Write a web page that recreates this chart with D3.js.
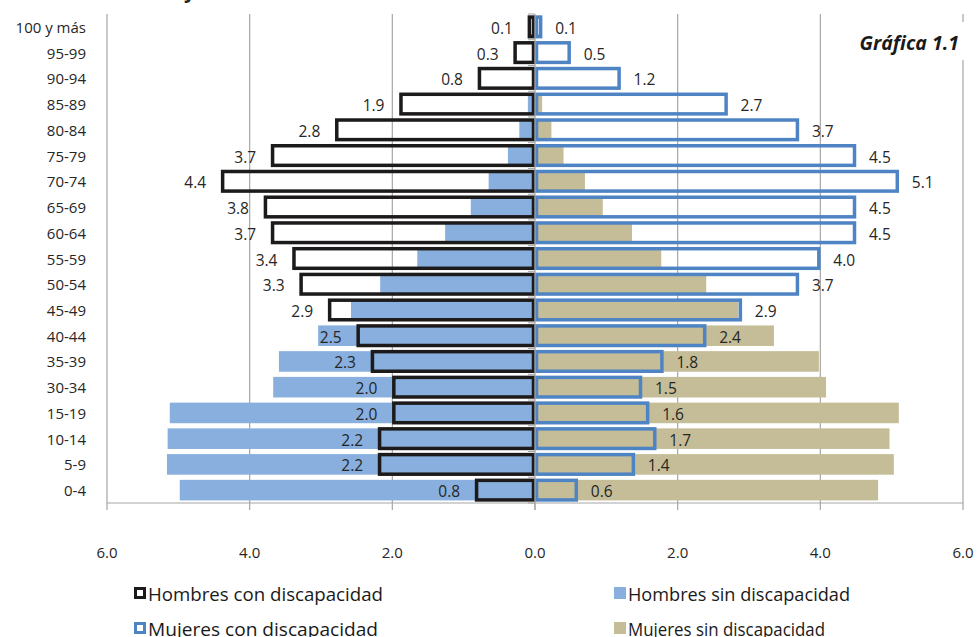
<!DOCTYPE html>
<html>
<head>
<meta charset="utf-8">
<style>
  body { margin: 0; background: #fff; }
  svg { display: block; font-family: "Open Sans", "Noto Sans", sans-serif; }
</style>
</head>
<body>
<svg width="978" height="637"></svg>
<script src="https://cdn.jsdelivr.net/npm/d3@7/dist/d3.min.js"></script>
<script>
  // grupos de edad (de arriba abajo, como en la gráfica)
  var grupos = ["100 y más", "95-99", "90-94", "85-89", "80-84", "75-79", "70-74",
    "65-69", "60-64", "55-59", "50-54", "45-49", "40-44", "35-39", "30-34",
    "15-19", "10-14", "5-9", "0-4"];

  var hombresCon = [0.1, 0.3, 0.8, 1.9, 2.8, 3.7, 4.4, 3.8, 3.7, 3.4, 3.3, 2.9, 2.5, 2.3, 2.0, 2.0, 2.2, 2.2, 0.84];
  var mujeresCon = [0.1, 0.5, 1.2, 2.7, 3.7, 4.5, 5.1, 4.5, 4.5, 4.0, 3.7, 2.9, 2.4, 1.8, 1.5, 1.6, 1.7, 1.4, 0.6];
  var hombresSin = [0, 0, 0.02, 0.1, 0.22, 0.38, 0.65, 0.9, 1.26, 1.65, 2.17, 2.58, 3.04, 3.59, 3.67, 5.12, 5.15, 5.16, 4.98];
  var mujeresSin = [0, 0, 0.02, 0.1, 0.23, 0.4, 0.7, 0.95, 1.36, 1.77, 2.4, 2.85, 3.35, 3.98, 4.08, 5.1, 4.97, 5.03, 4.81];

  var ticks = [-6, -4, -2, 0, 2, 4, 6];
  var leyenda = ["Hombres con discapacidad", "Hombres sin discapacidad",
    "Mujeres con discapacidad", "Mujeres sin discapacidad"];

  var svg = d3.select("svg");
  var fmt = d3.format(".1f");

  var x = d3.scaleLinear().domain([-6, 6]).range([107, 963]);
  var y = d3.scaleBand().domain(grupos).range([14, 503]).paddingInner(0.2).paddingOuter(0.1);

  var rows = grupos.map(function(g, i) {
    return { g: g, hc: hombresCon[i], mc: mujeresCon[i], hs: hombresSin[i], ms: mujeresSin[i] };
  });

  // titulo cortado arriba (solo asoma el trazo de la "y")
  svg.append("text").attr("x", 184).attr("y", -2)
    .attr("font-size", 20).attr("font-weight", "bold").attr("fill", "#222").text("y");

  // lineas de cuadricula
  svg.append("g").selectAll("line").data(ticks.filter(function(t) { return t != 0; }))
    .enter().append("line")
    .attr("x1", function(d) { return x(d); }).attr("x2", function(d) { return x(d); })
    .attr("y1", 14).attr("y2", 503)
    .attr("stroke", "#a6a6a6").attr("stroke-width", 1.2);

  // barras sin discapacidad
  svg.append("g").selectAll("rect").data(rows).enter().append("rect")
    .attr("x", function(d) { return x(-d.hs); })
    .attr("y", function(d) { return y(d.g); })
    .attr("width", function(d) { return x(0) - x(-d.hs); })
    .attr("height", y.bandwidth())
    .attr("fill", "#88afdd");

  svg.append("g").selectAll("rect").data(rows).enter().append("rect")
    .attr("x", x(0))
    .attr("y", function(d) { return y(d.g); })
    .attr("width", function(d) { return x(d.ms) - x(0); })
    .attr("height", y.bandwidth())
    .attr("fill", "#c4bd97");

  // barras con discapacidad (solo contorno)
  svg.append("g").selectAll("rect").data(rows).enter().append("rect")
    .attr("x", function(d) { return x(-d.hc) + 1.5; })
    .attr("y", function(d) { return y(d.g) + 0.5; })
    .attr("width", function(d) { return Math.max(x(0) - x(-d.hc) - 3, 1); })
    .attr("height", y.bandwidth() - 1)
    .attr("fill", "none").attr("stroke", "#1c1a1a").attr("stroke-width", 3.5);

  svg.append("g").selectAll("rect").data(rows).enter().append("rect")
    .attr("x", x(0) + 1.5)
    .attr("y", function(d) { return y(d.g) + 0.5; })
    .attr("width", function(d) { return Math.max(x(d.mc) - x(0) - 3, 1); })
    .attr("height", y.bandwidth() - 1)
    .attr("fill", "none").attr("stroke", "#4f84c4").attr("stroke-width", 3.5);

  // eje vertical en cero y marcas
  svg.append("line").attr("x1", x(0)).attr("x2", x(0)).attr("y1", 14).attr("y2", 510)
    .attr("stroke", "#a6a6a6").attr("stroke-width", 1.2);
  var bordes = grupos.map(function(g) { return y(g) - y.step() * y.paddingInner() / 2; });
  bordes.push(503);
  svg.append("g").selectAll("line").data(bordes).enter().append("line")
    .attr("x1", x(0) - 7).attr("x2", x(0))
    .attr("y1", function(d) { return d; }).attr("y2", function(d) { return d; })
    .attr("stroke", "#a6a6a6").attr("stroke-width", 1);

  // eje horizontal
  svg.append("line").attr("x1", x(-6)).attr("x2", x(6)).attr("y1", 503).attr("y2", 503)
    .attr("stroke", "#a6a6a6").attr("stroke-width", 1.2);
  svg.append("g").selectAll("line").data(ticks).enter().append("line")
    .attr("x1", function(d) { return x(d); }).attr("x2", function(d) { return x(d); })
    .attr("y1", 503).attr("y2", 510)
    .attr("stroke", "#a6a6a6").attr("stroke-width", 1.2);
  svg.append("g").selectAll("text").data(ticks).enter().append("text")
    .attr("x", function(d) { return x(d); }).attr("y", 552)
    .attr("text-anchor", "middle").attr("dominant-baseline", "central")
    .attr("font-size", 15).attr("fill", "#262626")
    .text(function(d) { return fmt(Math.abs(d)); });

  // etiquetas de edad
  svg.append("g").selectAll("text").data(grupos).enter().append("text")
    .attr("x", 86).attr("y", function(d) { return y(d) + y.bandwidth() / 2; })
    .attr("text-anchor", "end").attr("dominant-baseline", "central")
    .attr("font-size", 15).attr("fill", "#262626")
    .text(function(d) { return d; });

  // etiquetas de datos
  svg.append("g").selectAll("text").data(rows).enter().append("text")
    .attr("x", function(d) { return x(-d.hc) - 15; })
    .attr("y", function(d) { return y(d.g) + y.bandwidth() / 2 + 1; })
    .attr("text-anchor", "end").attr("dominant-baseline", "central")
    .attr("font-size", 15.5).attr("fill", "#262626")
    .text(function(d) { return fmt(d.hc); });

  svg.append("g").selectAll("text").data(rows).enter().append("text")
    .attr("x", function(d) { return x(d.mc) + 13; })
    .attr("y", function(d) { return y(d.g) + y.bandwidth() / 2 + 1; })
    .attr("text-anchor", "start").attr("dominant-baseline", "central")
    .attr("font-size", 15.5).attr("fill", "#262626")
    .text(function(d) { return fmt(d.mc); });

  // Gráfica 1.1
  svg.append("rect").attr("x", 848).attr("y", 22).attr("width", 125).attr("height", 38).attr("fill", "#fff");
  svg.append("text").attr("x", 959).attr("y", 42)
    .attr("text-anchor", "end").attr("dominant-baseline", "central")
    .attr("font-size", 19.5).attr("font-weight", "bold").attr("font-style", "italic")
    .attr("fill", "#1a1a1a").text("Gráfica 1.1");

  // leyenda
  var ley = [
    { t: leyenda[0], x: 134, y: 593, tipo: "borde", c: "#1c1a1a", w: 235 },
    { t: leyenda[1], x: 614, y: 593, tipo: "lleno", c: "#88afdd", w: 222 },
    { t: leyenda[2], x: 134, y: 628, tipo: "borde", c: "#4f84c4", w: 230 },
    { t: leyenda[3], x: 614, y: 628, tipo: "lleno", c: "#c4bd97", w: 197 }
  ];
  var lg = svg.append("g").selectAll("g").data(ley).enter().append("g");
  lg.append("rect")
    .attr("x", function(d) { return d.tipo == "borde" ? d.x + 1.5 : d.x; })
    .attr("y", function(d) { return d.tipo == "borde" ? d.y - 4.5 : d.y - 6; })
    .attr("width", function(d) { return d.tipo == "borde" ? 9 : 12; })
    .attr("height", function(d) { return d.tipo == "borde" ? 9 : 12; })
    .attr("fill", function(d) { return d.tipo == "borde" ? "#fff" : d.c; })
    .attr("stroke", function(d) { return d.tipo == "borde" ? d.c : "none"; })
    .attr("stroke-width", 3);
  lg.append("text")
    .attr("x", function(d) { return d.x + 14; })
    .attr("y", function(d) { return d.y + 1; })
    .attr("dominant-baseline", "central")
    .attr("font-size", 18).attr("fill", "#1a1a1a")
    .attr("textLength", function(d) { return d.w; })
    .attr("lengthAdjust", "spacingAndGlyphs")
    .text(function(d) { return d.t; });
</script>
</body>
</html>
